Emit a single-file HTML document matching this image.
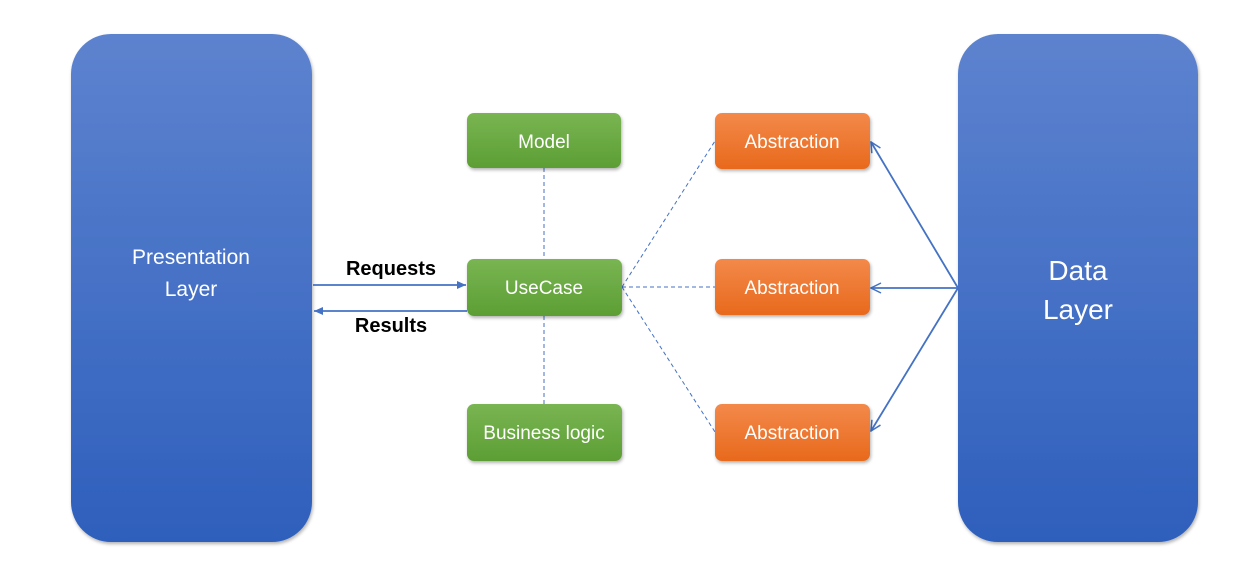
<!DOCTYPE html>
<html><head><meta charset="utf-8"><style>
html,body{margin:0;padding:0;background:#fff;}
svg{display:block;}
text{font-family:"Liberation Sans",sans-serif;}
</style></head><body>
<svg width="1258" height="585" viewBox="0 0 1258 585" xmlns="http://www.w3.org/2000/svg">
<defs>
<linearGradient id="gb" x1="0" y1="0" x2="0" y2="1"><stop offset="0" stop-color="#5d83cf"/><stop offset="1" stop-color="#2e5fbc"/></linearGradient>
<linearGradient id="gg" x1="0" y1="0" x2="0" y2="1"><stop offset="0" stop-color="#79b552"/><stop offset="1" stop-color="#5c9e34"/></linearGradient>
<linearGradient id="go" x1="0" y1="0" x2="0" y2="1"><stop offset="0" stop-color="#f3894a"/><stop offset="1" stop-color="#e8691c"/></linearGradient>
<filter id="sh" x="-10%" y="-10%" width="120%" height="130%"><feDropShadow dx="1" dy="2" stdDeviation="1.5" flood-color="#000" flood-opacity="0.3"/></filter>
<marker id="ah" markerWidth="10" markerHeight="10" refX="9" refY="5" orient="auto" markerUnits="userSpaceOnUse"><path d="M0,1 L9,5 L0,9 z" fill="#4472c4"/></marker>
<marker id="oa" markerWidth="12" markerHeight="12" refX="11" refY="6" orient="auto" markerUnits="userSpaceOnUse"><path d="M1,1 L11,6 L1,11" fill="none" stroke="#4472c4" stroke-width="1.5"/></marker>
</defs>
<rect x="71" y="34" width="241" height="508" rx="40" fill="url(#gb)" filter="url(#sh)"/>
<rect x="958" y="34" width="240" height="508" rx="40" fill="url(#gb)" filter="url(#sh)"/>
<text x="191" y="264" font-size="21" fill="#fff" text-anchor="middle">Presentation</text>
<text x="191" y="296" font-size="21" fill="#fff" text-anchor="middle">Layer</text>
<text x="1078" y="280" font-size="28" fill="#fff" text-anchor="middle">Data</text>
<text x="1078" y="319" font-size="28" fill="#fff" text-anchor="middle">Layer</text>
<g stroke="#4472c4" stroke-width="1" stroke-dasharray="4,3" fill="none">
<line x1="544" y1="168" x2="544" y2="259"/>
<line x1="544" y1="316" x2="544" y2="404"/>
<line x1="622" y1="287" x2="715" y2="141"/>
<line x1="622" y1="287" x2="715" y2="287"/>
<line x1="622" y1="287" x2="715" y2="432"/>
</g>
<g stroke="#4472c4" stroke-width="1.8" fill="none">
<line x1="313" y1="285" x2="466" y2="285" marker-end="url(#ah)"/>
<line x1="467" y1="311" x2="314" y2="311" marker-end="url(#ah)"/>
<line x1="958" y1="288" x2="871" y2="142" marker-end="url(#oa)"/>
<line x1="958" y1="288" x2="871" y2="288" marker-end="url(#oa)"/>
<line x1="958" y1="288" x2="871" y2="431" marker-end="url(#oa)"/>
</g>
<g filter="url(#sh)">
<rect x="467" y="113" width="154" height="55" rx="7" fill="url(#gg)"/>
<rect x="467" y="259" width="155" height="57" rx="7" fill="url(#gg)"/>
<rect x="467" y="404" width="155" height="57" rx="7" fill="url(#gg)"/>
<rect x="715" y="113" width="155" height="56" rx="7" fill="url(#go)"/>
<rect x="715" y="259" width="155" height="56" rx="7" fill="url(#go)"/>
<rect x="715" y="404" width="155" height="57" rx="7" fill="url(#go)"/>
</g>
<g font-size="19" fill="#fff" text-anchor="middle">
<text x="544" y="148">Model</text>
<text x="544" y="294">UseCase</text>
<text x="544" y="439">Business logic</text>
<text x="792" y="148">Abstraction</text>
<text x="792" y="294">Abstraction</text>
<text x="792" y="439">Abstraction</text>
</g>
<g font-size="20" font-weight="bold" fill="#000" text-anchor="middle">
<text x="391" y="275">Requests</text>
<text x="391" y="332">Results</text>
</g>
</svg>
</body></html>
